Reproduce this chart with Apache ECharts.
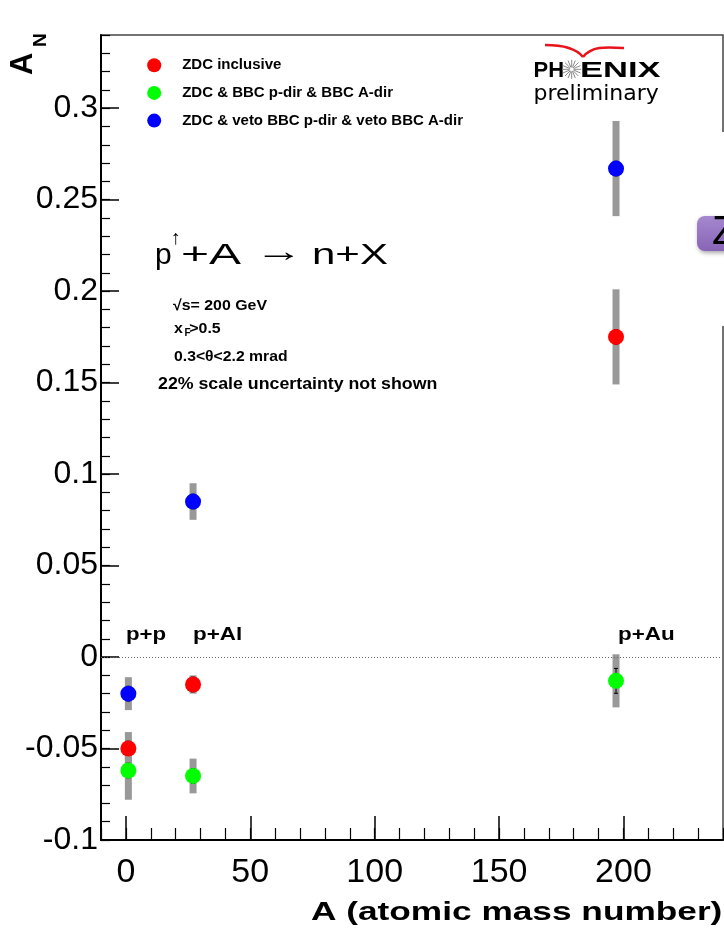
<!DOCTYPE html>
<html>
<head>
<meta charset="utf-8">
<script src="https://cdn.jsdelivr.net/npm/echarts@6/dist/echarts.min.js"></script>
<style>
html,body{margin:0;padding:0;background:#fff;}
#chart{width:724px;height:937px;}
</style>
</head>
<body>
<div id="chart"></div>
<script>
// ---- data ----
const collisions = ['p+p', 'p+Al', 'p+Au'];
const massNumber = [1, 27, 197];
const seriesNames = ['ZDC inclusive', 'ZDC & BBC p-dir & BBC A-dir', 'ZDC & veto BBC p-dir & veto BBC A-dir'];
const zdcInclusive     = [-0.050, -0.015, 0.175];
const zdcInclusiveSys  = [0.009, 0.005, 0.026];
const zdcInclusiveStat = [0.004, 0.004, 0.004];
const zdcBbc           = [-0.062, -0.065, -0.013];
const zdcBbcSys        = [0.016, 0.0095, 0.0145];
const zdcBbcStat       = [0.004, 0.004, 0.0068];
const zdcVeto          = [-0.020, 0.085, 0.267];
const zdcVetoSys       = [0.009, 0.010, 0.026];
const zdcVetoStat      = [0.004, 0.004, 0.004];
const xTickValues = [0, 50, 100, 150, 200];
const yTickValues = [-0.1, -0.05, 0, 0.05, 0.1, 0.15, 0.2, 0.25, 0.3];

const colors = ['#ff0000', '#00ff00', '#0000ff'];
const groups = [
  [zdcInclusive, zdcInclusiveSys, zdcInclusiveStat],
  [zdcBbc, zdcBbcSys, zdcBbcStat],
  [zdcVeto, zdcVetoSys, zdcVetoStat]
];

const FONT = '"Liberation Sans", Arial, Helvetica, sans-serif';

function errRender(params, api) {
  const x = api.value(0), y = api.value(1), sys = api.value(2), stat = api.value(3);
  const top = api.coord([x, y + sys]);
  const bot = api.coord([x, y - sys]);
  const st = api.coord([x, y + stat]);
  const sb = api.coord([x, y - stat]);
  const cx = top[0];
  return {
    type: 'group',
    children: [
      { type: 'rect', shape: { x: cx - 3.5, y: top[1], width: 7, height: bot[1] - top[1] },
        style: { fill: '#999999' } },
      { type: 'polyline', shape: { points: [[cx, st[1]], [cx, sb[1]]] },
        style: { stroke: '#000', lineWidth: 1, fill: null } },
      { type: 'line', shape: { x1: cx - 2, y1: st[1], x2: cx + 2, y2: st[1] }, style: { stroke: '#000', lineWidth: 1 } },
      { type: 'line', shape: { x1: cx - 2, y1: sb[1], x2: cx + 2, y2: sb[1] }, style: { stroke: '#000', lineWidth: 1 } }
    ]
  };
}

const series = [];
groups.forEach((g, i) => {
  series.push({
    type: 'custom', name: seriesNames[i] + ' err', xAxisIndex: 0, yAxisIndex: 0, z: 2,
    renderItem: errRender,
    encode: { x: 0, y: 1 },
    data: massNumber.map((a, k) => [a, g[0][k], g[1][k], g[2][k]]),
    silent: true
  });
});
groups.forEach((g, i) => {
  series.push({
    type: 'scatter', name: seriesNames[i], xAxisIndex: 0, yAxisIndex: 0, z: 4,
    symbol: 'circle', symbolSize: 16,
    itemStyle: { color: colors[i], opacity: 1 },
    data: massNumber.map((a, k) => [a, g[0][k]]),
    markLine: i === 0 ? {
      silent: true, symbol: ['none', 'none'], label: { show: false },
      lineStyle: { type: [1, 2], color: '#666', width: 1 },
      data: [{ yAxis: 0 }]
    } : undefined
  });
});

function txt(x, y, text, opts) {
  opts = opts || {};
  return {
    type: 'text', x: x, y: y, z: 10, scaleX: opts.sx || 1, rotation: opts.rot || 0,
    style: {
      text: text, x: 0, y: 0,
      font: (opts.weight || 'normal') + ' ' + (opts.size || 15) + 'px ' + (opts.family || FONT),
      fill: opts.color || '#000',
      textAlign: opts.align || 'left', textVerticalAlign: 'middle'
    }
  };
}

const spokes = [];
for (let k = 0; k < 16; k++) {
  const a = k * Math.PI / 8;
  spokes.push({ type: 'line', z: 10,
    shape: { x1: 571.7 + 2 * Math.cos(a), y1: 69.3 + 2 * Math.sin(a), x2: 571.7 + 9.5 * Math.cos(a), y2: 69.3 + 9.5 * Math.sin(a) },
    style: { stroke: '#8a8a8a', lineWidth: 1 } });
}

const graphics = [
  // gap in right frame line + slide tab
  { type: 'rect', z: 20, shape: { x: 716, y: 132, width: 10, height: 194 }, style: { fill: '#fff' } },
  { type: 'rect', z: 21, shape: { x: 697, y: 216, width: 40, height: 35, r: 8 },
    style: { fill: new echarts.graphic.LinearGradient(0, 0, 0, 1, [{ offset: 0, color: '#a588cf' }, { offset: 1, color: '#8864b6' }]),
      shadowBlur: 4, shadowOffsetX: 1, shadowOffsetY: 2, shadowColor: 'rgba(0,0,0,0.35)' } },
  Object.assign(txt(712, 233, 'Z', { size: 40 }), { z: 22 }),
  // axis titles
  txt(311, 913, 'A (atomic mass number)', { size: 25, weight: 'bold', sx: 1.41 }),
  txt(23, 75, 'A', { size: 31, weight: 'bold', rot: Math.PI / 2 }),
  txt(40.5, 47, 'N', { size: 19, weight: 'bold', rot: Math.PI / 2 }),
  // reaction
  txt(155, 255.7, 'p', { size: 30 }),
  txt(175.5, 238, '↑', { size: 20, align: 'center' }),
  txt(181, 255.7, '+A', { size: 30, sx: 1.6 }),
  txt(255, 252.5, '→', { size: 30, sx: 1.6 }),
  txt(312, 255.7, 'n+X', { size: 30, sx: 1.4 }),
  // conditions
  txt(173, 305.4, '√s= 200 GeV', { size: 15, weight: 'bold', sx: 1.06 }),
  txt(174, 328.6, 'x', { size: 15, weight: 'bold', sx: 1.06 }),
  txt(184.5, 332.9, 'F', { size: 10, weight: 'bold' }),
  txt(189.3, 328.6, '>0.5', { size: 15, weight: 'bold', sx: 1.06 }),
  txt(174, 356.4, '0.3<θ<2.2 mrad', { size: 15, weight: 'bold', sx: 1.05 }),
  txt(158, 384.3, '22% scale uncertainty not shown', { size: 16, weight: 'bold', sx: 1.11 }),
  // system labels
  txt(126, 634.8, collisions[0], { size: 19, weight: 'bold', sx: 1.17 }),
  txt(193, 634.8, collisions[1], { size: 19, weight: 'bold', sx: 1.18 }),
  txt(618, 634.8, collisions[2], { size: 19, weight: 'bold', sx: 1.18 }),
  // PHENIX logo
  { type: 'bezierCurve', z: 10, shape: { x1: 545, y1: 45, x2: 583, y2: 57, cpx1: 562, cpy1: 45, cpx2: 576, cpy2: 48 },
    style: { stroke: '#e8141b', lineWidth: 2.5, fill: null } },
  { type: 'bezierCurve', z: 10, shape: { x1: 583, y1: 57, x2: 624, y2: 48, cpx1: 592, cpy1: 46, cpx2: 605, cpy2: 47 },
    style: { stroke: '#e8141b', lineWidth: 2.5, fill: null } },
  txt(533.5, 70.9, 'PH', { size: 22, weight: 'bold' }),
  txt(580, 70.9, 'ENIX', { size: 22, weight: 'bold', sx: 1.57 }),
  txt(533.5, 94.5, 'preliminary', { size: 22, family: '"DejaVu Sans", sans-serif' })
].concat(spokes);

const chart = echarts.init(document.getElementById('chart'), null, { renderer: 'canvas' });
chart.setOption({
  animation: false,
  backgroundColor: '#fff',
  grid: { left: 101, top: 35, right: 1, bottom: 97, show: true, borderColor: '#444', borderWidth: 1.5, backgroundColor: 'transparent' },
  legend: {
    orient: 'vertical', left: 142.2, top: 52.7,
    data: seriesNames.map(n => ({ name: n, icon: 'circle' })),
    itemWidth: 46, itemHeight: 14, itemGap: 12.7,
    textStyle: { fontFamily: FONT, fontWeight: 'bold', fontSize: 15, color: '#000', lineHeight: 14 },
    selectedMode: false
  },
  xAxis: [
    {
      type: 'value', min: -10, max: 240, position: 'bottom',
      axisLine: { show: true, onZero: false, lineStyle: { color: '#000', width: 2 } },
      axisTick: { show: true, inside: true, length: 24, customValues: xTickValues, lineStyle: { color: '#000', width: 1.5 } },
      axisLabel: { show: true, customValues: xTickValues, fontFamily: FONT, fontSize: 34, color: '#000', margin: 16 },
      splitLine: { show: false }
    },
    {
      type: 'value', min: -10, max: 240, interval: 10, position: 'bottom',
      axisLine: { show: false, onZero: false },
      axisTick: { show: true, inside: true, length: 12, lineStyle: { color: '#000', width: 1.2 } },
      axisLabel: { show: false },
      splitLine: { show: false }
    }
  ],
  yAxis: [
    {
      type: 'value', min: -0.1, max: 0.34, position: 'left',
      axisLine: { show: true, onZero: false, lineStyle: { color: '#000', width: 2 } },
      axisTick: { show: true, inside: true, length: 18, customValues: yTickValues, lineStyle: { color: '#000', width: 1.5 } },
      axisLabel: { show: true, customValues: yTickValues, fontFamily: FONT, fontSize: 32, color: '#000', margin: 3,
        formatter: v => String(Math.round(v * 100) / 100) },
      splitLine: { show: false }
    },
    {
      type: 'value', min: -0.1, max: 0.34, interval: 0.01, position: 'left', offset: 0,
      axisLine: { show: false, onZero: false },
      axisTick: { show: true, inside: true, length: 9, lineStyle: { color: '#000', width: 1.2 } },
      axisLabel: { show: false },
      splitLine: { show: false }
    }
  ],
  series: series,
  graphic: graphics
});
</script>
</body>
</html>
